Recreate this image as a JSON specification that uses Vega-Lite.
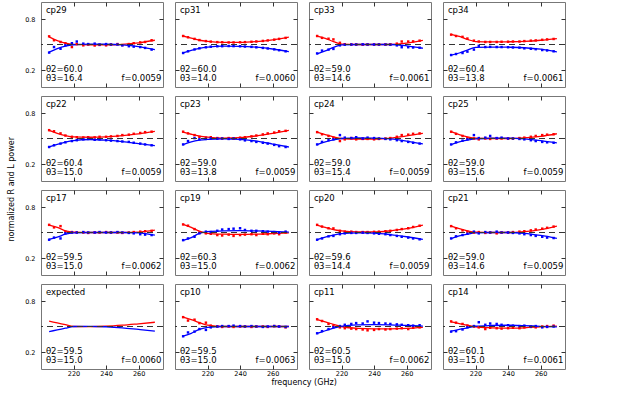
{
"$schema": "https://vega.github.io/schema/vega-lite/v6.json",
"padding": {"left": 8, "top": 1, "right": 5, "bottom": 0},
"data": {"values": [
{"p":"cp29","k":"t","a":"θ2=60.0","b":"θ3=16.4","g":"f=0.0059"},
{"p":"cp31","k":"t","a":"θ2=60.0","b":"θ3=14.0","g":"f=0.0060"},
{"p":"cp33","k":"t","a":"θ2=59.0","b":"θ3=14.6","g":"f=0.0061"},
{"p":"cp34","k":"t","a":"θ2=60.4","b":"θ3=13.8","g":"f=0.0061"},
{"p":"cp22","k":"t","a":"θ2=60.4","b":"θ3=15.0","g":"f=0.0059"},
{"p":"cp23","k":"t","a":"θ2=59.0","b":"θ3=13.8","g":"f=0.0059"},
{"p":"cp24","k":"t","a":"θ2=59.0","b":"θ3=15.4","g":"f=0.0059"},
{"p":"cp25","k":"t","a":"θ2=59.0","b":"θ3=15.6","g":"f=0.0059"},
{"p":"cp17","k":"t","a":"θ2=59.5","b":"θ3=15.0","g":"f=0.0062"},
{"p":"cp19","k":"t","a":"θ2=60.3","b":"θ3=15.0","g":"f=0.0062"},
{"p":"cp20","k":"t","a":"θ2=59.6","b":"θ3=14.4","g":"f=0.0059"},
{"p":"cp21","k":"t","a":"θ2=59.0","b":"θ3=14.6","g":"f=0.0059"},
{"p":"expected","k":"t","a":"θ2=59.5","b":"θ3=15.0","g":"f=0.0060"},
{"p":"cp10","k":"t","a":"θ2=59.5","b":"θ3=15.0","g":"f=0.0063"},
{"p":"cp11","k":"t","a":"θ2=60.5","b":"θ3=15.0","g":"f=0.0062"},
{"p":"cp14","k":"t","a":"θ2=60.1","b":"θ3=15.0","g":"f=0.0061"},

{"p":"cp29","k":"f","f":205,"R":0.59,"B":0.41},{"p":"cp29","k":"f","f":210,"R":0.545,"B":0.452},{"p":"cp29","k":"f","f":215,"R":0.515,"B":0.482},{"p":"cp29","k":"f","f":220,"R":0.502,"B":0.497},{"p":"cp29","k":"f","f":230,"R":0.496,"B":0.505},{"p":"cp29","k":"f","f":240,"R":0.495,"B":0.503},{"p":"cp29","k":"f","f":250,"R":0.502,"B":0.495},{"p":"cp29","k":"f","f":260,"R":0.52,"B":0.475},{"p":"cp29","k":"f","f":270,"R":0.55,"B":0.44},
{"p":"cp31","k":"f","f":205,"R":0.60,"B":0.40},{"p":"cp31","k":"f","f":210,"R":0.575,"B":0.43},{"p":"cp31","k":"f","f":215,"R":0.55,"B":0.455},{"p":"cp31","k":"f","f":220,"R":0.536,"B":0.47},{"p":"cp31","k":"f","f":230,"R":0.525,"B":0.481},{"p":"cp31","k":"f","f":240,"R":0.525,"B":0.479},{"p":"cp31","k":"f","f":250,"R":0.535,"B":0.468},{"p":"cp31","k":"f","f":260,"R":0.555,"B":0.447},{"p":"cp31","k":"f","f":270,"R":0.588,"B":0.415},
{"p":"cp33","k":"f","f":205,"R":0.60,"B":0.39},{"p":"cp33","k":"f","f":210,"R":0.572,"B":0.425},{"p":"cp33","k":"f","f":215,"R":0.535,"B":0.465},{"p":"cp33","k":"f","f":220,"R":0.505,"B":0.495},{"p":"cp33","k":"f","f":230,"R":0.50,"B":0.50},{"p":"cp33","k":"f","f":240,"R":0.50,"B":0.50},{"p":"cp33","k":"f","f":250,"R":0.50,"B":0.50},{"p":"cp33","k":"f","f":260,"R":0.515,"B":0.485},{"p":"cp33","k":"f","f":270,"R":0.548,"B":0.456},
{"p":"cp34","k":"f","f":205,"R":0.62,"B":0.376},{"p":"cp34","k":"f","f":210,"R":0.595,"B":0.40},{"p":"cp34","k":"f","f":215,"R":0.56,"B":0.435},{"p":"cp34","k":"f","f":220,"R":0.535,"B":0.465},{"p":"cp34","k":"f","f":230,"R":0.53,"B":0.47},{"p":"cp34","k":"f","f":240,"R":0.532,"B":0.468},{"p":"cp34","k":"f","f":250,"R":0.537,"B":0.462},{"p":"cp34","k":"f","f":260,"R":0.55,"B":0.445},{"p":"cp34","k":"f","f":270,"R":0.57,"B":0.414},
{"p":"cp22","k":"f","f":205,"R":0.596,"B":0.40},{"p":"cp22","k":"f","f":210,"R":0.56,"B":0.43},{"p":"cp22","k":"f","f":215,"R":0.535,"B":0.456},{"p":"cp22","k":"f","f":220,"R":0.52,"B":0.475},{"p":"cp22","k":"f","f":230,"R":0.515,"B":0.488},{"p":"cp22","k":"f","f":240,"R":0.52,"B":0.48},{"p":"cp22","k":"f","f":250,"R":0.535,"B":0.463},{"p":"cp22","k":"f","f":260,"R":0.555,"B":0.44},{"p":"cp22","k":"f","f":270,"R":0.585,"B":0.416},
{"p":"cp23","k":"f","f":205,"R":0.576,"B":0.428},{"p":"cp23","k":"f","f":210,"R":0.55,"B":0.46},{"p":"cp23","k":"f","f":215,"R":0.528,"B":0.48},{"p":"cp23","k":"f","f":220,"R":0.515,"B":0.49},{"p":"cp23","k":"f","f":230,"R":0.505,"B":0.497},{"p":"cp23","k":"f","f":240,"R":0.51,"B":0.49},{"p":"cp23","k":"f","f":250,"R":0.53,"B":0.47},{"p":"cp23","k":"f","f":260,"R":0.56,"B":0.435},{"p":"cp23","k":"f","f":270,"R":0.596,"B":0.40},
{"p":"cp24","k":"f","f":205,"R":0.576,"B":0.428},{"p":"cp24","k":"f","f":210,"R":0.545,"B":0.46},{"p":"cp24","k":"f","f":215,"R":0.52,"B":0.485},{"p":"cp24","k":"f","f":220,"R":0.50,"B":0.50},{"p":"cp24","k":"f","f":230,"R":0.494,"B":0.506},{"p":"cp24","k":"f","f":240,"R":0.494,"B":0.505},{"p":"cp24","k":"f","f":250,"R":0.505,"B":0.495},{"p":"cp24","k":"f","f":260,"R":0.53,"B":0.47},{"p":"cp24","k":"f","f":270,"R":0.56,"B":0.436},
{"p":"cp25","k":"f","f":205,"R":0.58,"B":0.428},{"p":"cp25","k":"f","f":210,"R":0.545,"B":0.46},{"p":"cp25","k":"f","f":215,"R":0.52,"B":0.482},{"p":"cp25","k":"f","f":220,"R":0.505,"B":0.495},{"p":"cp25","k":"f","f":230,"R":0.50,"B":0.503},{"p":"cp25","k":"f","f":240,"R":0.50,"B":0.505},{"p":"cp25","k":"f","f":250,"R":0.507,"B":0.495},{"p":"cp25","k":"f","f":260,"R":0.525,"B":0.475},{"p":"cp25","k":"f","f":270,"R":0.556,"B":0.448},
{"p":"cp17","k":"f","f":205,"R":0.588,"B":0.42},{"p":"cp17","k":"f","f":210,"R":0.56,"B":0.445},{"p":"cp17","k":"f","f":215,"R":0.52,"B":0.48},{"p":"cp17","k":"f","f":220,"R":0.505,"B":0.495},{"p":"cp17","k":"f","f":230,"R":0.50,"B":0.50},{"p":"cp17","k":"f","f":240,"R":0.50,"B":0.50},{"p":"cp17","k":"f","f":250,"R":0.50,"B":0.50},{"p":"cp17","k":"f","f":260,"R":0.505,"B":0.495},{"p":"cp17","k":"f","f":270,"R":0.528,"B":0.468},
{"p":"cp19","k":"f","f":205,"R":0.596,"B":0.408},{"p":"cp19","k":"f","f":210,"R":0.56,"B":0.44},{"p":"cp19","k":"f","f":215,"R":0.515,"B":0.49},{"p":"cp19","k":"f","f":220,"R":0.49,"B":0.51},{"p":"cp19","k":"f","f":230,"R":0.48,"B":0.52},{"p":"cp19","k":"f","f":240,"R":0.477,"B":0.522},{"p":"cp19","k":"f","f":250,"R":0.48,"B":0.518},{"p":"cp19","k":"f","f":260,"R":0.487,"B":0.512},{"p":"cp19","k":"f","f":270,"R":0.495,"B":0.505},
{"p":"cp20","k":"f","f":205,"R":0.588,"B":0.416},{"p":"cp20","k":"f","f":210,"R":0.56,"B":0.445},{"p":"cp20","k":"f","f":215,"R":0.535,"B":0.47},{"p":"cp20","k":"f","f":220,"R":0.52,"B":0.487},{"p":"cp20","k":"f","f":230,"R":0.507,"B":0.496},{"p":"cp20","k":"f","f":240,"R":0.506,"B":0.492},{"p":"cp20","k":"f","f":250,"R":0.52,"B":0.475},{"p":"cp20","k":"f","f":260,"R":0.545,"B":0.45},{"p":"cp20","k":"f","f":270,"R":0.588,"B":0.42},
{"p":"cp21","k":"f","f":205,"R":0.576,"B":0.428},{"p":"cp21","k":"f","f":210,"R":0.545,"B":0.46},{"p":"cp21","k":"f","f":215,"R":0.52,"B":0.48},{"p":"cp21","k":"f","f":220,"R":0.505,"B":0.495},{"p":"cp21","k":"f","f":230,"R":0.50,"B":0.50},{"p":"cp21","k":"f","f":240,"R":0.50,"B":0.50},{"p":"cp21","k":"f","f":250,"R":0.51,"B":0.49},{"p":"cp21","k":"f","f":260,"R":0.535,"B":0.465},{"p":"cp21","k":"f","f":270,"R":0.576,"B":0.432},
{"p":"expected","k":"f","f":205,"R":0.563,"B":0.44},{"p":"expected","k":"f","f":210,"R":0.542,"B":0.46},{"p":"expected","k":"f","f":215,"R":0.521,"B":0.48},{"p":"expected","k":"f","f":220,"R":0.50,"B":0.50},{"p":"expected","k":"f","f":230,"R":0.499,"B":0.501},{"p":"expected","k":"f","f":240,"R":0.503,"B":0.497},{"p":"expected","k":"f","f":250,"R":0.515,"B":0.485},{"p":"expected","k":"f","f":260,"R":0.532,"B":0.465},{"p":"expected","k":"f","f":270,"R":0.55,"B":0.445},
{"p":"cp10","k":"f","f":205,"R":0.61,"B":0.386},{"p":"cp10","k":"f","f":210,"R":0.58,"B":0.42},{"p":"cp10","k":"f","f":215,"R":0.545,"B":0.465},{"p":"cp10","k":"f","f":220,"R":0.515,"B":0.49},{"p":"cp10","k":"f","f":230,"R":0.50,"B":0.50},{"p":"cp10","k":"f","f":240,"R":0.50,"B":0.50},{"p":"cp10","k":"f","f":250,"R":0.50,"B":0.50},{"p":"cp10","k":"f","f":260,"R":0.50,"B":0.50},{"p":"cp10","k":"f","f":270,"R":0.50,"B":0.50},
{"p":"cp11","k":"f","f":205,"R":0.582,"B":0.42},{"p":"cp11","k":"f","f":210,"R":0.555,"B":0.45},{"p":"cp11","k":"f","f":215,"R":0.525,"B":0.48},{"p":"cp11","k":"f","f":220,"R":0.50,"B":0.502},{"p":"cp11","k":"f","f":230,"R":0.478,"B":0.518},{"p":"cp11","k":"f","f":240,"R":0.473,"B":0.522},{"p":"cp11","k":"f","f":250,"R":0.473,"B":0.52},{"p":"cp11","k":"f","f":260,"R":0.478,"B":0.512},{"p":"cp11","k":"f","f":270,"R":0.49,"B":0.505},
{"p":"cp14","k":"f","f":205,"R":0.555,"B":0.445},{"p":"cp14","k":"f","f":210,"R":0.535,"B":0.465},{"p":"cp14","k":"f","f":215,"R":0.515,"B":0.485},{"p":"cp14","k":"f","f":220,"R":0.497,"B":0.503},{"p":"cp14","k":"f","f":230,"R":0.485,"B":0.512},{"p":"cp14","k":"f","f":240,"R":0.48,"B":0.515},{"p":"cp14","k":"f","f":250,"R":0.485,"B":0.51},{"p":"cp14","k":"f","f":260,"R":0.495,"B":0.502},{"p":"cp14","k":"f","f":270,"R":0.505,"B":0.495},

{"p":"cp29","k":"p","f":205,"R":0.596,"B":0.405},{"p":"cp29","k":"p","f":208,"R":0.55,"B":0.47},{"p":"cp29","k":"p","f":212,"R":0.53,"B":0.45},{"p":"cp29","k":"p","f":215,"R":0.515,"B":0.49},{"p":"cp29","k":"p","f":219,"R":0.47,"B":0.515},{"p":"cp29","k":"p","f":222,"R":0.505,"B":0.535},{"p":"cp29","k":"p","f":226,"R":0.49,"B":0.51},{"p":"cp29","k":"p","f":229,"R":0.50,"B":0.505},{"p":"cp29","k":"p","f":233,"R":0.488,"B":0.51},{"p":"cp29","k":"p","f":236,"R":0.495,"B":0.50},{"p":"cp29","k":"p","f":240,"R":0.49,"B":0.505},{"p":"cp29","k":"p","f":243,"R":0.50,"B":0.50},{"p":"cp29","k":"p","f":247,"R":0.505,"B":0.50},{"p":"cp29","k":"p","f":250,"R":0.493,"B":0.49},{"p":"cp29","k":"p","f":254,"R":0.505,"B":0.48},{"p":"cp29","k":"p","f":257,"R":0.515,"B":0.475},{"p":"cp29","k":"p","f":261,"R":0.525,"B":0.47},{"p":"cp29","k":"p","f":264,"R":0.53,"B":0.46},{"p":"cp29","k":"p","f":268,"R":0.55,"B":0.44},
{"p":"cp31","k":"p","f":205,"R":0.60,"B":0.40},{"p":"cp31","k":"p","f":208,"R":0.585,"B":0.42},{"p":"cp31","k":"p","f":212,"R":0.566,"B":0.442},{"p":"cp31","k":"p","f":215,"R":0.552,"B":0.455},{"p":"cp31","k":"p","f":219,"R":0.54,"B":0.467},{"p":"cp31","k":"p","f":222,"R":0.534,"B":0.474},{"p":"cp31","k":"p","f":226,"R":0.528,"B":0.479},{"p":"cp31","k":"p","f":229,"R":0.526,"B":0.48},{"p":"cp31","k":"p","f":233,"R":0.524,"B":0.482},{"p":"cp31","k":"p","f":236,"R":0.524,"B":0.481},{"p":"cp31","k":"p","f":240,"R":0.526,"B":0.479},{"p":"cp31","k":"p","f":243,"R":0.528,"B":0.476},{"p":"cp31","k":"p","f":247,"R":0.532,"B":0.472},{"p":"cp31","k":"p","f":250,"R":0.536,"B":0.467},{"p":"cp31","k":"p","f":254,"R":0.542,"B":0.46},{"p":"cp31","k":"p","f":257,"R":0.548,"B":0.453},{"p":"cp31","k":"p","f":261,"R":0.557,"B":0.443},{"p":"cp31","k":"p","f":264,"R":0.566,"B":0.433},{"p":"cp31","k":"p","f":268,"R":0.578,"B":0.42},
{"p":"cp33","k":"p","f":205,"R":0.60,"B":0.395},{"p":"cp33","k":"p","f":208,"R":0.578,"B":0.428},{"p":"cp33","k":"p","f":212,"R":0.568,"B":0.44},{"p":"cp33","k":"p","f":215,"R":0.56,"B":0.448},{"p":"cp33","k":"p","f":219,"R":0.52,"B":0.49},{"p":"cp33","k":"p","f":222,"R":0.503,"B":0.498},{"p":"cp33","k":"p","f":226,"R":0.50,"B":0.50},{"p":"cp33","k":"p","f":229,"R":0.50,"B":0.50},{"p":"cp33","k":"p","f":233,"R":0.498,"B":0.502},{"p":"cp33","k":"p","f":236,"R":0.50,"B":0.50},{"p":"cp33","k":"p","f":240,"R":0.50,"B":0.50},{"p":"cp33","k":"p","f":243,"R":0.50,"B":0.50},{"p":"cp33","k":"p","f":247,"R":0.50,"B":0.50},{"p":"cp33","k":"p","f":250,"R":0.502,"B":0.498},{"p":"cp33","k":"p","f":254,"R":0.51,"B":0.49},{"p":"cp33","k":"p","f":257,"R":0.535,"B":0.468},{"p":"cp33","k":"p","f":261,"R":0.535,"B":0.468},{"p":"cp33","k":"p","f":264,"R":0.537,"B":0.465},{"p":"cp33","k":"p","f":268,"R":0.545,"B":0.462},
{"p":"cp34","k":"p","f":205,"R":0.616,"B":0.376},{"p":"cp34","k":"p","f":208,"R":0.60,"B":0.388},{"p":"cp34","k":"p","f":212,"R":0.59,"B":0.40},{"p":"cp34","k":"p","f":215,"R":0.57,"B":0.416},{"p":"cp34","k":"p","f":219,"R":0.545,"B":0.44},{"p":"cp34","k":"p","f":222,"R":0.535,"B":0.485},{"p":"cp34","k":"p","f":226,"R":0.53,"B":0.47},{"p":"cp34","k":"p","f":229,"R":0.53,"B":0.472},{"p":"cp34","k":"p","f":233,"R":0.53,"B":0.47},{"p":"cp34","k":"p","f":236,"R":0.532,"B":0.47},{"p":"cp34","k":"p","f":240,"R":0.533,"B":0.468},{"p":"cp34","k":"p","f":243,"R":0.535,"B":0.465},{"p":"cp34","k":"p","f":247,"R":0.535,"B":0.463},{"p":"cp34","k":"p","f":250,"R":0.54,"B":0.455},{"p":"cp34","k":"p","f":254,"R":0.545,"B":0.45},{"p":"cp34","k":"p","f":257,"R":0.548,"B":0.445},{"p":"cp34","k":"p","f":261,"R":0.555,"B":0.435},{"p":"cp34","k":"p","f":264,"R":0.56,"B":0.43},{"p":"cp34","k":"p","f":268,"R":0.565,"B":0.42},
{"p":"cp22","k":"p","f":205,"R":0.598,"B":0.40},{"p":"cp22","k":"p","f":208,"R":0.585,"B":0.42},{"p":"cp22","k":"p","f":212,"R":0.56,"B":0.44},{"p":"cp22","k":"p","f":215,"R":0.535,"B":0.455},{"p":"cp22","k":"p","f":219,"R":0.52,"B":0.47},{"p":"cp22","k":"p","f":222,"R":0.515,"B":0.48},{"p":"cp22","k":"p","f":226,"R":0.512,"B":0.49},{"p":"cp22","k":"p","f":229,"R":0.515,"B":0.495},{"p":"cp22","k":"p","f":233,"R":0.513,"B":0.485},{"p":"cp22","k":"p","f":236,"R":0.52,"B":0.49},{"p":"cp22","k":"p","f":240,"R":0.52,"B":0.48},{"p":"cp22","k":"p","f":243,"R":0.525,"B":0.475},{"p":"cp22","k":"p","f":247,"R":0.53,"B":0.47},{"p":"cp22","k":"p","f":250,"R":0.54,"B":0.465},{"p":"cp22","k":"p","f":254,"R":0.545,"B":0.46},{"p":"cp22","k":"p","f":257,"R":0.555,"B":0.45},{"p":"cp22","k":"p","f":261,"R":0.565,"B":0.44},{"p":"cp22","k":"p","f":264,"R":0.575,"B":0.43},{"p":"cp22","k":"p","f":268,"R":0.58,"B":0.42},
{"p":"cp23","k":"p","f":205,"R":0.58,"B":0.43},{"p":"cp23","k":"p","f":208,"R":0.56,"B":0.47},{"p":"cp23","k":"p","f":212,"R":0.54,"B":0.505},{"p":"cp23","k":"p","f":215,"R":0.52,"B":0.49},{"p":"cp23","k":"p","f":219,"R":0.51,"B":0.495},{"p":"cp23","k":"p","f":222,"R":0.515,"B":0.50},{"p":"cp23","k":"p","f":226,"R":0.505,"B":0.498},{"p":"cp23","k":"p","f":229,"R":0.50,"B":0.50},{"p":"cp23","k":"p","f":233,"R":0.505,"B":0.495},{"p":"cp23","k":"p","f":236,"R":0.50,"B":0.50},{"p":"cp23","k":"p","f":240,"R":0.51,"B":0.49},{"p":"cp23","k":"p","f":243,"R":0.515,"B":0.478},{"p":"cp23","k":"p","f":247,"R":0.525,"B":0.47},{"p":"cp23","k":"p","f":250,"R":0.535,"B":0.46},{"p":"cp23","k":"p","f":254,"R":0.548,"B":0.45},{"p":"cp23","k":"p","f":257,"R":0.56,"B":0.44},{"p":"cp23","k":"p","f":261,"R":0.57,"B":0.425},{"p":"cp23","k":"p","f":264,"R":0.585,"B":0.41},{"p":"cp23","k":"p","f":268,"R":0.59,"B":0.40},
{"p":"cp24","k":"p","f":205,"R":0.575,"B":0.43},{"p":"cp24","k":"p","f":208,"R":0.55,"B":0.46},{"p":"cp24","k":"p","f":212,"R":0.53,"B":0.48},{"p":"cp24","k":"p","f":215,"R":0.51,"B":0.49},{"p":"cp24","k":"p","f":219,"R":0.47,"B":0.54},{"p":"cp24","k":"p","f":222,"R":0.49,"B":0.51},{"p":"cp24","k":"p","f":226,"R":0.505,"B":0.505},{"p":"cp24","k":"p","f":229,"R":0.49,"B":0.515},{"p":"cp24","k":"p","f":233,"R":0.495,"B":0.50},{"p":"cp24","k":"p","f":236,"R":0.495,"B":0.51},{"p":"cp24","k":"p","f":240,"R":0.49,"B":0.505},{"p":"cp24","k":"p","f":243,"R":0.495,"B":0.50},{"p":"cp24","k":"p","f":247,"R":0.50,"B":0.495},{"p":"cp24","k":"p","f":250,"R":0.505,"B":0.49},{"p":"cp24","k":"p","f":254,"R":0.52,"B":0.48},{"p":"cp24","k":"p","f":257,"R":0.54,"B":0.47},{"p":"cp24","k":"p","f":261,"R":0.545,"B":0.46},{"p":"cp24","k":"p","f":264,"R":0.555,"B":0.45},{"p":"cp24","k":"p","f":268,"R":0.56,"B":0.44},
{"p":"cp25","k":"p","f":205,"R":0.58,"B":0.43},{"p":"cp25","k":"p","f":208,"R":0.555,"B":0.455},{"p":"cp25","k":"p","f":212,"R":0.53,"B":0.475},{"p":"cp25","k":"p","f":215,"R":0.505,"B":0.49},{"p":"cp25","k":"p","f":219,"R":0.50,"B":0.54},{"p":"cp25","k":"p","f":222,"R":0.49,"B":0.505},{"p":"cp25","k":"p","f":226,"R":0.50,"B":0.51},{"p":"cp25","k":"p","f":229,"R":0.495,"B":0.53},{"p":"cp25","k":"p","f":233,"R":0.50,"B":0.505},{"p":"cp25","k":"p","f":236,"R":0.50,"B":0.51},{"p":"cp25","k":"p","f":240,"R":0.50,"B":0.50},{"p":"cp25","k":"p","f":243,"R":0.498,"B":0.50},{"p":"cp25","k":"p","f":247,"R":0.505,"B":0.495},{"p":"cp25","k":"p","f":250,"R":0.51,"B":0.49},{"p":"cp25","k":"p","f":254,"R":0.52,"B":0.48},{"p":"cp25","k":"p","f":257,"R":0.53,"B":0.47},{"p":"cp25","k":"p","f":261,"R":0.54,"B":0.46},{"p":"cp25","k":"p","f":264,"R":0.545,"B":0.455},{"p":"cp25","k":"p","f":268,"R":0.55,"B":0.45},
{"p":"cp17","k":"p","f":205,"R":0.59,"B":0.415},{"p":"cp17","k":"p","f":208,"R":0.56,"B":0.44},{"p":"cp17","k":"p","f":212,"R":0.575,"B":0.43},{"p":"cp17","k":"p","f":215,"R":0.51,"B":0.49},{"p":"cp17","k":"p","f":219,"R":0.505,"B":0.50},{"p":"cp17","k":"p","f":222,"R":0.50,"B":0.50},{"p":"cp17","k":"p","f":226,"R":0.50,"B":0.505},{"p":"cp17","k":"p","f":229,"R":0.495,"B":0.50},{"p":"cp17","k":"p","f":233,"R":0.50,"B":0.50},{"p":"cp17","k":"p","f":236,"R":0.50,"B":0.505},{"p":"cp17","k":"p","f":240,"R":0.505,"B":0.50},{"p":"cp17","k":"p","f":243,"R":0.50,"B":0.50},{"p":"cp17","k":"p","f":247,"R":0.50,"B":0.505},{"p":"cp17","k":"p","f":250,"R":0.495,"B":0.50},{"p":"cp17","k":"p","f":254,"R":0.50,"B":0.495},{"p":"cp17","k":"p","f":257,"R":0.505,"B":0.49},{"p":"cp17","k":"p","f":261,"R":0.51,"B":0.48},{"p":"cp17","k":"p","f":264,"R":0.515,"B":0.475},{"p":"cp17","k":"p","f":268,"R":0.52,"B":0.47},
{"p":"cp19","k":"p","f":205,"R":0.595,"B":0.41},{"p":"cp19","k":"p","f":208,"R":0.58,"B":0.43},{"p":"cp19","k":"p","f":212,"R":0.54,"B":0.45},{"p":"cp19","k":"p","f":215,"R":0.50,"B":0.49},{"p":"cp19","k":"p","f":219,"R":0.49,"B":0.51},{"p":"cp19","k":"p","f":222,"R":0.485,"B":0.505},{"p":"cp19","k":"p","f":226,"R":0.47,"B":0.52},{"p":"cp19","k":"p","f":229,"R":0.465,"B":0.535},{"p":"cp19","k":"p","f":233,"R":0.475,"B":0.54},{"p":"cp19","k":"p","f":236,"R":0.46,"B":0.545},{"p":"cp19","k":"p","f":240,"R":0.47,"B":0.55},{"p":"cp19","k":"p","f":243,"R":0.475,"B":0.53},{"p":"cp19","k":"p","f":247,"R":0.48,"B":0.52},{"p":"cp19","k":"p","f":250,"R":0.47,"B":0.52},{"p":"cp19","k":"p","f":254,"R":0.485,"B":0.515},{"p":"cp19","k":"p","f":257,"R":0.48,"B":0.51},{"p":"cp19","k":"p","f":261,"R":0.49,"B":0.505},{"p":"cp19","k":"p","f":264,"R":0.48,"B":0.50},{"p":"cp19","k":"p","f":268,"R":0.50,"B":0.51},
{"p":"cp20","k":"p","f":205,"R":0.59,"B":0.415},{"p":"cp20","k":"p","f":208,"R":0.57,"B":0.43},{"p":"cp20","k":"p","f":212,"R":0.55,"B":0.455},{"p":"cp20","k":"p","f":215,"R":0.548,"B":0.46},{"p":"cp20","k":"p","f":219,"R":0.52,"B":0.48},{"p":"cp20","k":"p","f":222,"R":0.51,"B":0.49},{"p":"cp20","k":"p","f":226,"R":0.51,"B":0.495},{"p":"cp20","k":"p","f":229,"R":0.505,"B":0.495},{"p":"cp20","k":"p","f":233,"R":0.505,"B":0.498},{"p":"cp20","k":"p","f":236,"R":0.505,"B":0.495},{"p":"cp20","k":"p","f":240,"R":0.508,"B":0.49},{"p":"cp20","k":"p","f":243,"R":0.51,"B":0.485},{"p":"cp20","k":"p","f":247,"R":0.515,"B":0.48},{"p":"cp20","k":"p","f":250,"R":0.52,"B":0.47},{"p":"cp20","k":"p","f":254,"R":0.53,"B":0.46},{"p":"cp20","k":"p","f":257,"R":0.54,"B":0.45},{"p":"cp20","k":"p","f":261,"R":0.55,"B":0.44},{"p":"cp20","k":"p","f":264,"R":0.565,"B":0.43},{"p":"cp20","k":"p","f":268,"R":0.58,"B":0.42},
{"p":"cp21","k":"p","f":205,"R":0.575,"B":0.43},{"p":"cp21","k":"p","f":208,"R":0.55,"B":0.455},{"p":"cp21","k":"p","f":212,"R":0.525,"B":0.47},{"p":"cp21","k":"p","f":215,"R":0.51,"B":0.485},{"p":"cp21","k":"p","f":219,"R":0.50,"B":0.51},{"p":"cp21","k":"p","f":222,"R":0.505,"B":0.49},{"p":"cp21","k":"p","f":226,"R":0.495,"B":0.505},{"p":"cp21","k":"p","f":229,"R":0.50,"B":0.50},{"p":"cp21","k":"p","f":233,"R":0.49,"B":0.51},{"p":"cp21","k":"p","f":236,"R":0.50,"B":0.50},{"p":"cp21","k":"p","f":240,"R":0.50,"B":0.50},{"p":"cp21","k":"p","f":243,"R":0.505,"B":0.495},{"p":"cp21","k":"p","f":247,"R":0.51,"B":0.49},{"p":"cp21","k":"p","f":250,"R":0.515,"B":0.48},{"p":"cp21","k":"p","f":254,"R":0.525,"B":0.47},{"p":"cp21","k":"p","f":257,"R":0.535,"B":0.46},{"p":"cp21","k":"p","f":261,"R":0.545,"B":0.45},{"p":"cp21","k":"p","f":264,"R":0.555,"B":0.44},{"p":"cp21","k":"p","f":268,"R":0.57,"B":0.435},
{"p":"cp10","k":"p","f":205,"R":0.61,"B":0.385},{"p":"cp10","k":"p","f":208,"R":0.57,"B":0.43},{"p":"cp10","k":"p","f":212,"R":0.58,"B":0.44},{"p":"cp10","k":"p","f":215,"R":0.54,"B":0.47},{"p":"cp10","k":"p","f":219,"R":0.545,"B":0.46},{"p":"cp10","k":"p","f":222,"R":0.51,"B":0.49},{"p":"cp10","k":"p","f":226,"R":0.50,"B":0.50},{"p":"cp10","k":"p","f":229,"R":0.495,"B":0.505},{"p":"cp10","k":"p","f":233,"R":0.50,"B":0.505},{"p":"cp10","k":"p","f":236,"R":0.495,"B":0.51},{"p":"cp10","k":"p","f":240,"R":0.50,"B":0.505},{"p":"cp10","k":"p","f":243,"R":0.50,"B":0.50},{"p":"cp10","k":"p","f":247,"R":0.495,"B":0.505},{"p":"cp10","k":"p","f":250,"R":0.50,"B":0.50},{"p":"cp10","k":"p","f":254,"R":0.50,"B":0.495},{"p":"cp10","k":"p","f":257,"R":0.495,"B":0.50},{"p":"cp10","k":"p","f":261,"R":0.505,"B":0.505},{"p":"cp10","k":"p","f":264,"R":0.50,"B":0.50},{"p":"cp10","k":"p","f":268,"R":0.49,"B":0.495},
{"p":"cp11","k":"p","f":205,"R":0.585,"B":0.42},{"p":"cp11","k":"p","f":208,"R":0.565,"B":0.445},{"p":"cp11","k":"p","f":212,"R":0.53,"B":0.47},{"p":"cp11","k":"p","f":215,"R":0.51,"B":0.49},{"p":"cp11","k":"p","f":219,"R":0.49,"B":0.505},{"p":"cp11","k":"p","f":222,"R":0.48,"B":0.52},{"p":"cp11","k":"p","f":226,"R":0.475,"B":0.53},{"p":"cp11","k":"p","f":229,"R":0.47,"B":0.54},{"p":"cp11","k":"p","f":233,"R":0.465,"B":0.535},{"p":"cp11","k":"p","f":236,"R":0.455,"B":0.56},{"p":"cp11","k":"p","f":240,"R":0.46,"B":0.545},{"p":"cp11","k":"p","f":243,"R":0.47,"B":0.54},{"p":"cp11","k":"p","f":247,"R":0.465,"B":0.535},{"p":"cp11","k":"p","f":250,"R":0.47,"B":0.53},{"p":"cp11","k":"p","f":254,"R":0.475,"B":0.525},{"p":"cp11","k":"p","f":257,"R":0.48,"B":0.52},{"p":"cp11","k":"p","f":261,"R":0.47,"B":0.515},{"p":"cp11","k":"p","f":264,"R":0.485,"B":0.51},{"p":"cp11","k":"p","f":268,"R":0.49,"B":0.515},
{"p":"cp14","k":"p","f":205,"R":0.56,"B":0.44},{"p":"cp14","k":"p","f":208,"R":0.545,"B":0.445},{"p":"cp14","k":"p","f":212,"R":0.53,"B":0.465},{"p":"cp14","k":"p","f":215,"R":0.51,"B":0.49},{"p":"cp14","k":"p","f":219,"R":0.50,"B":0.505},{"p":"cp14","k":"p","f":222,"R":0.49,"B":0.55},{"p":"cp14","k":"p","f":226,"R":0.47,"B":0.52},{"p":"cp14","k":"p","f":229,"R":0.485,"B":0.535},{"p":"cp14","k":"p","f":233,"R":0.48,"B":0.53},{"p":"cp14","k":"p","f":236,"R":0.475,"B":0.52},{"p":"cp14","k":"p","f":240,"R":0.48,"B":0.515},{"p":"cp14","k":"p","f":243,"R":0.485,"B":0.51},{"p":"cp14","k":"p","f":247,"R":0.48,"B":0.505},{"p":"cp14","k":"p","f":250,"R":0.49,"B":0.51},{"p":"cp14","k":"p","f":254,"R":0.495,"B":0.50},{"p":"cp14","k":"p","f":257,"R":0.49,"B":0.505},{"p":"cp14","k":"p","f":261,"R":0.50,"B":0.49},{"p":"cp14","k":"p","f":264,"R":0.505,"B":0.495},{"p":"cp14","k":"p","f":268,"R":0.51,"B":0.50}
]},
"title": {"text": "frequency (GHz)", "orient": "bottom", "offset": 2, "dx": 17},
"vconcat": [{
"title": {"text": "normalized R and L power", "orient": "left", "offset": 8},
"spacing": 7,
"vconcat": [
{"spacing": 10, "hconcat": [
{"width":122,"height":85,"transform":[{"filter":"datum.p=='cp29'"}],"layer":[
{"transform":[{"filter":"datum.k=='f'"},{"fold":["R","B"],"as":["pol","v"]}],"mark":"line","encoding":{"x":{"field":"f","type":"quantitative","scale":{"domain":[200,275],"nice":false},"axis":{"values":[220,240,260],"title":null,"labels":false}},"y":{"field":"v","type":"quantitative","scale":{"domain":[0,1],"nice":false},"axis":{"values":[0.2,0.4,0.6,0.8],"format":".1f","title":null,"labels":true,"labelOverlap":false}},"color":{"field":"pol","type":"nominal","scale":{"domain":["R","B"],"range":["#ff0000","#0000ff"]},"legend":null}}},
{"transform":[{"filter":"datum.k=='p'"},{"fold":["R","B"],"as":["pol","v"]}],"mark":"square","encoding":{"x":{"field":"f","type":"quantitative"},"y":{"field":"v","type":"quantitative"},"color":{"field":"pol","type":"nominal"}}},
{"transform":[{"filter":"datum.k=='t'"}],"mark":"rule","encoding":{"y":{"datum":0.5}}},
{"transform":[{"filter":"datum.k=='t'"}],"mark":"text","encoding":{"x":{"datum":203},"y":{"datum":0.905},"text":{"field":"p"}}},
{"transform":[{"filter":"datum.k=='t'"}],"mark":"text","encoding":{"x":{"datum":203},"y":{"datum":0.215},"text":{"field":"a"}}},
{"transform":[{"filter":"datum.k=='t'"}],"mark":"text","encoding":{"x":{"datum":203},"y":{"datum":0.11},"text":{"field":"b"}}},
{"transform":[{"filter":"datum.k=='t'"}],"mark":{"type":"text","align":"right"},"encoding":{"x":{"datum":274},"y":{"datum":0.11},"text":{"field":"g"}}}]},
{"width":122,"height":85,"transform":[{"filter":"datum.p=='cp31'"}],"layer":[
{"transform":[{"filter":"datum.k=='f'"},{"fold":["R","B"],"as":["pol","v"]}],"mark":"line","encoding":{"x":{"field":"f","type":"quantitative","scale":{"domain":[200,275],"nice":false},"axis":{"values":[220,240,260],"title":null,"labels":false}},"y":{"field":"v","type":"quantitative","scale":{"domain":[0,1],"nice":false},"axis":{"values":[0.2,0.4,0.6,0.8],"title":null,"labels":false}},"color":{"field":"pol","type":"nominal","scale":{"domain":["R","B"],"range":["#ff0000","#0000ff"]},"legend":null}}},
{"transform":[{"filter":"datum.k=='p'"},{"fold":["R","B"],"as":["pol","v"]}],"mark":"square","encoding":{"x":{"field":"f","type":"quantitative"},"y":{"field":"v","type":"quantitative"},"color":{"field":"pol","type":"nominal"}}},
{"transform":[{"filter":"datum.k=='t'"}],"mark":"rule","encoding":{"y":{"datum":0.5}}},
{"transform":[{"filter":"datum.k=='t'"}],"mark":"text","encoding":{"x":{"datum":203},"y":{"datum":0.905},"text":{"field":"p"}}},
{"transform":[{"filter":"datum.k=='t'"}],"mark":"text","encoding":{"x":{"datum":203},"y":{"datum":0.215},"text":{"field":"a"}}},
{"transform":[{"filter":"datum.k=='t'"}],"mark":"text","encoding":{"x":{"datum":203},"y":{"datum":0.11},"text":{"field":"b"}}},
{"transform":[{"filter":"datum.k=='t'"}],"mark":{"type":"text","align":"right"},"encoding":{"x":{"datum":274},"y":{"datum":0.11},"text":{"field":"g"}}}]},
{"width":122,"height":85,"transform":[{"filter":"datum.p=='cp33'"}],"layer":[
{"transform":[{"filter":"datum.k=='f'"},{"fold":["R","B"],"as":["pol","v"]}],"mark":"line","encoding":{"x":{"field":"f","type":"quantitative","scale":{"domain":[200,275],"nice":false},"axis":{"values":[220,240,260],"title":null,"labels":false}},"y":{"field":"v","type":"quantitative","scale":{"domain":[0,1],"nice":false},"axis":{"values":[0.2,0.4,0.6,0.8],"title":null,"labels":false}},"color":{"field":"pol","type":"nominal","scale":{"domain":["R","B"],"range":["#ff0000","#0000ff"]},"legend":null}}},
{"transform":[{"filter":"datum.k=='p'"},{"fold":["R","B"],"as":["pol","v"]}],"mark":"square","encoding":{"x":{"field":"f","type":"quantitative"},"y":{"field":"v","type":"quantitative"},"color":{"field":"pol","type":"nominal"}}},
{"transform":[{"filter":"datum.k=='t'"}],"mark":"rule","encoding":{"y":{"datum":0.5}}},
{"transform":[{"filter":"datum.k=='t'"}],"mark":"text","encoding":{"x":{"datum":203},"y":{"datum":0.905},"text":{"field":"p"}}},
{"transform":[{"filter":"datum.k=='t'"}],"mark":"text","encoding":{"x":{"datum":203},"y":{"datum":0.215},"text":{"field":"a"}}},
{"transform":[{"filter":"datum.k=='t'"}],"mark":"text","encoding":{"x":{"datum":203},"y":{"datum":0.11},"text":{"field":"b"}}},
{"transform":[{"filter":"datum.k=='t'"}],"mark":{"type":"text","align":"right"},"encoding":{"x":{"datum":274},"y":{"datum":0.11},"text":{"field":"g"}}}]},
{"width":122,"height":85,"transform":[{"filter":"datum.p=='cp34'"}],"layer":[
{"transform":[{"filter":"datum.k=='f'"},{"fold":["R","B"],"as":["pol","v"]}],"mark":"line","encoding":{"x":{"field":"f","type":"quantitative","scale":{"domain":[200,275],"nice":false},"axis":{"values":[220,240,260],"title":null,"labels":false}},"y":{"field":"v","type":"quantitative","scale":{"domain":[0,1],"nice":false},"axis":{"values":[0.2,0.4,0.6,0.8],"title":null,"labels":false}},"color":{"field":"pol","type":"nominal","scale":{"domain":["R","B"],"range":["#ff0000","#0000ff"]},"legend":null}}},
{"transform":[{"filter":"datum.k=='p'"},{"fold":["R","B"],"as":["pol","v"]}],"mark":"square","encoding":{"x":{"field":"f","type":"quantitative"},"y":{"field":"v","type":"quantitative"},"color":{"field":"pol","type":"nominal"}}},
{"transform":[{"filter":"datum.k=='t'"}],"mark":"rule","encoding":{"y":{"datum":0.5}}},
{"transform":[{"filter":"datum.k=='t'"}],"mark":"text","encoding":{"x":{"datum":203},"y":{"datum":0.905},"text":{"field":"p"}}},
{"transform":[{"filter":"datum.k=='t'"}],"mark":"text","encoding":{"x":{"datum":203},"y":{"datum":0.215},"text":{"field":"a"}}},
{"transform":[{"filter":"datum.k=='t'"}],"mark":"text","encoding":{"x":{"datum":203},"y":{"datum":0.11},"text":{"field":"b"}}},
{"transform":[{"filter":"datum.k=='t'"}],"mark":{"type":"text","align":"right"},"encoding":{"x":{"datum":274},"y":{"datum":0.11},"text":{"field":"g"}}}]}
]},
{"spacing": 10, "hconcat": [
{"width":122,"height":85,"transform":[{"filter":"datum.p=='cp22'"}],"layer":[
{"transform":[{"filter":"datum.k=='f'"},{"fold":["R","B"],"as":["pol","v"]}],"mark":"line","encoding":{"x":{"field":"f","type":"quantitative","scale":{"domain":[200,275],"nice":false},"axis":{"values":[220,240,260],"title":null,"labels":false}},"y":{"field":"v","type":"quantitative","scale":{"domain":[0,1],"nice":false},"axis":{"values":[0.2,0.4,0.6,0.8],"format":".1f","title":null,"labels":true,"labelOverlap":false}},"color":{"field":"pol","type":"nominal","scale":{"domain":["R","B"],"range":["#ff0000","#0000ff"]},"legend":null}}},
{"transform":[{"filter":"datum.k=='p'"},{"fold":["R","B"],"as":["pol","v"]}],"mark":"square","encoding":{"x":{"field":"f","type":"quantitative"},"y":{"field":"v","type":"quantitative"},"color":{"field":"pol","type":"nominal"}}},
{"transform":[{"filter":"datum.k=='t'"}],"mark":"rule","encoding":{"y":{"datum":0.5}}},
{"transform":[{"filter":"datum.k=='t'"}],"mark":"text","encoding":{"x":{"datum":203},"y":{"datum":0.905},"text":{"field":"p"}}},
{"transform":[{"filter":"datum.k=='t'"}],"mark":"text","encoding":{"x":{"datum":203},"y":{"datum":0.215},"text":{"field":"a"}}},
{"transform":[{"filter":"datum.k=='t'"}],"mark":"text","encoding":{"x":{"datum":203},"y":{"datum":0.11},"text":{"field":"b"}}},
{"transform":[{"filter":"datum.k=='t'"}],"mark":{"type":"text","align":"right"},"encoding":{"x":{"datum":274},"y":{"datum":0.11},"text":{"field":"g"}}}]},
{"width":122,"height":85,"transform":[{"filter":"datum.p=='cp23'"}],"layer":[
{"transform":[{"filter":"datum.k=='f'"},{"fold":["R","B"],"as":["pol","v"]}],"mark":"line","encoding":{"x":{"field":"f","type":"quantitative","scale":{"domain":[200,275],"nice":false},"axis":{"values":[220,240,260],"title":null,"labels":false}},"y":{"field":"v","type":"quantitative","scale":{"domain":[0,1],"nice":false},"axis":{"values":[0.2,0.4,0.6,0.8],"title":null,"labels":false}},"color":{"field":"pol","type":"nominal","scale":{"domain":["R","B"],"range":["#ff0000","#0000ff"]},"legend":null}}},
{"transform":[{"filter":"datum.k=='p'"},{"fold":["R","B"],"as":["pol","v"]}],"mark":"square","encoding":{"x":{"field":"f","type":"quantitative"},"y":{"field":"v","type":"quantitative"},"color":{"field":"pol","type":"nominal"}}},
{"transform":[{"filter":"datum.k=='t'"}],"mark":"rule","encoding":{"y":{"datum":0.5}}},
{"transform":[{"filter":"datum.k=='t'"}],"mark":"text","encoding":{"x":{"datum":203},"y":{"datum":0.905},"text":{"field":"p"}}},
{"transform":[{"filter":"datum.k=='t'"}],"mark":"text","encoding":{"x":{"datum":203},"y":{"datum":0.215},"text":{"field":"a"}}},
{"transform":[{"filter":"datum.k=='t'"}],"mark":"text","encoding":{"x":{"datum":203},"y":{"datum":0.11},"text":{"field":"b"}}},
{"transform":[{"filter":"datum.k=='t'"}],"mark":{"type":"text","align":"right"},"encoding":{"x":{"datum":274},"y":{"datum":0.11},"text":{"field":"g"}}}]},
{"width":122,"height":85,"transform":[{"filter":"datum.p=='cp24'"}],"layer":[
{"transform":[{"filter":"datum.k=='f'"},{"fold":["R","B"],"as":["pol","v"]}],"mark":"line","encoding":{"x":{"field":"f","type":"quantitative","scale":{"domain":[200,275],"nice":false},"axis":{"values":[220,240,260],"title":null,"labels":false}},"y":{"field":"v","type":"quantitative","scale":{"domain":[0,1],"nice":false},"axis":{"values":[0.2,0.4,0.6,0.8],"title":null,"labels":false}},"color":{"field":"pol","type":"nominal","scale":{"domain":["R","B"],"range":["#ff0000","#0000ff"]},"legend":null}}},
{"transform":[{"filter":"datum.k=='p'"},{"fold":["R","B"],"as":["pol","v"]}],"mark":"square","encoding":{"x":{"field":"f","type":"quantitative"},"y":{"field":"v","type":"quantitative"},"color":{"field":"pol","type":"nominal"}}},
{"transform":[{"filter":"datum.k=='t'"}],"mark":"rule","encoding":{"y":{"datum":0.5}}},
{"transform":[{"filter":"datum.k=='t'"}],"mark":"text","encoding":{"x":{"datum":203},"y":{"datum":0.905},"text":{"field":"p"}}},
{"transform":[{"filter":"datum.k=='t'"}],"mark":"text","encoding":{"x":{"datum":203},"y":{"datum":0.215},"text":{"field":"a"}}},
{"transform":[{"filter":"datum.k=='t'"}],"mark":"text","encoding":{"x":{"datum":203},"y":{"datum":0.11},"text":{"field":"b"}}},
{"transform":[{"filter":"datum.k=='t'"}],"mark":{"type":"text","align":"right"},"encoding":{"x":{"datum":274},"y":{"datum":0.11},"text":{"field":"g"}}}]},
{"width":122,"height":85,"transform":[{"filter":"datum.p=='cp25'"}],"layer":[
{"transform":[{"filter":"datum.k=='f'"},{"fold":["R","B"],"as":["pol","v"]}],"mark":"line","encoding":{"x":{"field":"f","type":"quantitative","scale":{"domain":[200,275],"nice":false},"axis":{"values":[220,240,260],"title":null,"labels":false}},"y":{"field":"v","type":"quantitative","scale":{"domain":[0,1],"nice":false},"axis":{"values":[0.2,0.4,0.6,0.8],"title":null,"labels":false}},"color":{"field":"pol","type":"nominal","scale":{"domain":["R","B"],"range":["#ff0000","#0000ff"]},"legend":null}}},
{"transform":[{"filter":"datum.k=='p'"},{"fold":["R","B"],"as":["pol","v"]}],"mark":"square","encoding":{"x":{"field":"f","type":"quantitative"},"y":{"field":"v","type":"quantitative"},"color":{"field":"pol","type":"nominal"}}},
{"transform":[{"filter":"datum.k=='t'"}],"mark":"rule","encoding":{"y":{"datum":0.5}}},
{"transform":[{"filter":"datum.k=='t'"}],"mark":"text","encoding":{"x":{"datum":203},"y":{"datum":0.905},"text":{"field":"p"}}},
{"transform":[{"filter":"datum.k=='t'"}],"mark":"text","encoding":{"x":{"datum":203},"y":{"datum":0.215},"text":{"field":"a"}}},
{"transform":[{"filter":"datum.k=='t'"}],"mark":"text","encoding":{"x":{"datum":203},"y":{"datum":0.11},"text":{"field":"b"}}},
{"transform":[{"filter":"datum.k=='t'"}],"mark":{"type":"text","align":"right"},"encoding":{"x":{"datum":274},"y":{"datum":0.11},"text":{"field":"g"}}}]}
]},
{"spacing": 10, "hconcat": [
{"width":122,"height":85,"transform":[{"filter":"datum.p=='cp17'"}],"layer":[
{"transform":[{"filter":"datum.k=='f'"},{"fold":["R","B"],"as":["pol","v"]}],"mark":"line","encoding":{"x":{"field":"f","type":"quantitative","scale":{"domain":[200,275],"nice":false},"axis":{"values":[220,240,260],"title":null,"labels":false}},"y":{"field":"v","type":"quantitative","scale":{"domain":[0,1],"nice":false},"axis":{"values":[0.2,0.4,0.6,0.8],"format":".1f","title":null,"labels":true,"labelOverlap":false}},"color":{"field":"pol","type":"nominal","scale":{"domain":["R","B"],"range":["#ff0000","#0000ff"]},"legend":null}}},
{"transform":[{"filter":"datum.k=='p'"},{"fold":["R","B"],"as":["pol","v"]}],"mark":"square","encoding":{"x":{"field":"f","type":"quantitative"},"y":{"field":"v","type":"quantitative"},"color":{"field":"pol","type":"nominal"}}},
{"transform":[{"filter":"datum.k=='t'"}],"mark":"rule","encoding":{"y":{"datum":0.5}}},
{"transform":[{"filter":"datum.k=='t'"}],"mark":"text","encoding":{"x":{"datum":203},"y":{"datum":0.905},"text":{"field":"p"}}},
{"transform":[{"filter":"datum.k=='t'"}],"mark":"text","encoding":{"x":{"datum":203},"y":{"datum":0.215},"text":{"field":"a"}}},
{"transform":[{"filter":"datum.k=='t'"}],"mark":"text","encoding":{"x":{"datum":203},"y":{"datum":0.11},"text":{"field":"b"}}},
{"transform":[{"filter":"datum.k=='t'"}],"mark":{"type":"text","align":"right"},"encoding":{"x":{"datum":274},"y":{"datum":0.11},"text":{"field":"g"}}}]},
{"width":122,"height":85,"transform":[{"filter":"datum.p=='cp19'"}],"layer":[
{"transform":[{"filter":"datum.k=='f'"},{"fold":["R","B"],"as":["pol","v"]}],"mark":"line","encoding":{"x":{"field":"f","type":"quantitative","scale":{"domain":[200,275],"nice":false},"axis":{"values":[220,240,260],"title":null,"labels":false}},"y":{"field":"v","type":"quantitative","scale":{"domain":[0,1],"nice":false},"axis":{"values":[0.2,0.4,0.6,0.8],"title":null,"labels":false}},"color":{"field":"pol","type":"nominal","scale":{"domain":["R","B"],"range":["#ff0000","#0000ff"]},"legend":null}}},
{"transform":[{"filter":"datum.k=='p'"},{"fold":["R","B"],"as":["pol","v"]}],"mark":"square","encoding":{"x":{"field":"f","type":"quantitative"},"y":{"field":"v","type":"quantitative"},"color":{"field":"pol","type":"nominal"}}},
{"transform":[{"filter":"datum.k=='t'"}],"mark":"rule","encoding":{"y":{"datum":0.5}}},
{"transform":[{"filter":"datum.k=='t'"}],"mark":"text","encoding":{"x":{"datum":203},"y":{"datum":0.905},"text":{"field":"p"}}},
{"transform":[{"filter":"datum.k=='t'"}],"mark":"text","encoding":{"x":{"datum":203},"y":{"datum":0.215},"text":{"field":"a"}}},
{"transform":[{"filter":"datum.k=='t'"}],"mark":"text","encoding":{"x":{"datum":203},"y":{"datum":0.11},"text":{"field":"b"}}},
{"transform":[{"filter":"datum.k=='t'"}],"mark":{"type":"text","align":"right"},"encoding":{"x":{"datum":274},"y":{"datum":0.11},"text":{"field":"g"}}}]},
{"width":122,"height":85,"transform":[{"filter":"datum.p=='cp20'"}],"layer":[
{"transform":[{"filter":"datum.k=='f'"},{"fold":["R","B"],"as":["pol","v"]}],"mark":"line","encoding":{"x":{"field":"f","type":"quantitative","scale":{"domain":[200,275],"nice":false},"axis":{"values":[220,240,260],"title":null,"labels":false}},"y":{"field":"v","type":"quantitative","scale":{"domain":[0,1],"nice":false},"axis":{"values":[0.2,0.4,0.6,0.8],"title":null,"labels":false}},"color":{"field":"pol","type":"nominal","scale":{"domain":["R","B"],"range":["#ff0000","#0000ff"]},"legend":null}}},
{"transform":[{"filter":"datum.k=='p'"},{"fold":["R","B"],"as":["pol","v"]}],"mark":"square","encoding":{"x":{"field":"f","type":"quantitative"},"y":{"field":"v","type":"quantitative"},"color":{"field":"pol","type":"nominal"}}},
{"transform":[{"filter":"datum.k=='t'"}],"mark":"rule","encoding":{"y":{"datum":0.5}}},
{"transform":[{"filter":"datum.k=='t'"}],"mark":"text","encoding":{"x":{"datum":203},"y":{"datum":0.905},"text":{"field":"p"}}},
{"transform":[{"filter":"datum.k=='t'"}],"mark":"text","encoding":{"x":{"datum":203},"y":{"datum":0.215},"text":{"field":"a"}}},
{"transform":[{"filter":"datum.k=='t'"}],"mark":"text","encoding":{"x":{"datum":203},"y":{"datum":0.11},"text":{"field":"b"}}},
{"transform":[{"filter":"datum.k=='t'"}],"mark":{"type":"text","align":"right"},"encoding":{"x":{"datum":274},"y":{"datum":0.11},"text":{"field":"g"}}}]},
{"width":122,"height":85,"transform":[{"filter":"datum.p=='cp21'"}],"layer":[
{"transform":[{"filter":"datum.k=='f'"},{"fold":["R","B"],"as":["pol","v"]}],"mark":"line","encoding":{"x":{"field":"f","type":"quantitative","scale":{"domain":[200,275],"nice":false},"axis":{"values":[220,240,260],"title":null,"labels":false}},"y":{"field":"v","type":"quantitative","scale":{"domain":[0,1],"nice":false},"axis":{"values":[0.2,0.4,0.6,0.8],"title":null,"labels":false}},"color":{"field":"pol","type":"nominal","scale":{"domain":["R","B"],"range":["#ff0000","#0000ff"]},"legend":null}}},
{"transform":[{"filter":"datum.k=='p'"},{"fold":["R","B"],"as":["pol","v"]}],"mark":"square","encoding":{"x":{"field":"f","type":"quantitative"},"y":{"field":"v","type":"quantitative"},"color":{"field":"pol","type":"nominal"}}},
{"transform":[{"filter":"datum.k=='t'"}],"mark":"rule","encoding":{"y":{"datum":0.5}}},
{"transform":[{"filter":"datum.k=='t'"}],"mark":"text","encoding":{"x":{"datum":203},"y":{"datum":0.905},"text":{"field":"p"}}},
{"transform":[{"filter":"datum.k=='t'"}],"mark":"text","encoding":{"x":{"datum":203},"y":{"datum":0.215},"text":{"field":"a"}}},
{"transform":[{"filter":"datum.k=='t'"}],"mark":"text","encoding":{"x":{"datum":203},"y":{"datum":0.11},"text":{"field":"b"}}},
{"transform":[{"filter":"datum.k=='t'"}],"mark":{"type":"text","align":"right"},"encoding":{"x":{"datum":274},"y":{"datum":0.11},"text":{"field":"g"}}}]}
]},
{"spacing": 10, "hconcat": [
{"width":122,"height":85,"transform":[{"filter":"datum.p=='expected'"}],"layer":[
{"transform":[{"filter":"datum.k=='f'"},{"fold":["R","B"],"as":["pol","v"]}],"mark":"line","encoding":{"x":{"field":"f","type":"quantitative","scale":{"domain":[200,275],"nice":false},"axis":{"values":[220,240,260],"title":null,"labels":true,"labelOverlap":false}},"y":{"field":"v","type":"quantitative","scale":{"domain":[0,1],"nice":false},"axis":{"values":[0.2,0.4,0.6,0.8],"format":".1f","title":null,"labels":true,"labelOverlap":false}},"color":{"field":"pol","type":"nominal","scale":{"domain":["R","B"],"range":["#ff0000","#0000ff"]},"legend":null}}},
{"transform":[{"filter":"datum.k=='t'"}],"mark":"rule","encoding":{"y":{"datum":0.5}}},
{"transform":[{"filter":"datum.k=='t'"}],"mark":"text","encoding":{"x":{"datum":203},"y":{"datum":0.905},"text":{"field":"p"}}},
{"transform":[{"filter":"datum.k=='t'"}],"mark":"text","encoding":{"x":{"datum":203},"y":{"datum":0.215},"text":{"field":"a"}}},
{"transform":[{"filter":"datum.k=='t'"}],"mark":"text","encoding":{"x":{"datum":203},"y":{"datum":0.11},"text":{"field":"b"}}},
{"transform":[{"filter":"datum.k=='t'"}],"mark":{"type":"text","align":"right"},"encoding":{"x":{"datum":274},"y":{"datum":0.11},"text":{"field":"g"}}}]},
{"width":122,"height":85,"transform":[{"filter":"datum.p=='cp10'"}],"layer":[
{"transform":[{"filter":"datum.k=='f'"},{"fold":["R","B"],"as":["pol","v"]}],"mark":"line","encoding":{"x":{"field":"f","type":"quantitative","scale":{"domain":[200,275],"nice":false},"axis":{"values":[220,240,260],"title":null,"labels":true,"labelOverlap":false}},"y":{"field":"v","type":"quantitative","scale":{"domain":[0,1],"nice":false},"axis":{"values":[0.2,0.4,0.6,0.8],"title":null,"labels":false}},"color":{"field":"pol","type":"nominal","scale":{"domain":["R","B"],"range":["#ff0000","#0000ff"]},"legend":null}}},
{"transform":[{"filter":"datum.k=='p'"},{"fold":["R","B"],"as":["pol","v"]}],"mark":"square","encoding":{"x":{"field":"f","type":"quantitative"},"y":{"field":"v","type":"quantitative"},"color":{"field":"pol","type":"nominal"}}},
{"transform":[{"filter":"datum.k=='t'"}],"mark":"rule","encoding":{"y":{"datum":0.5}}},
{"transform":[{"filter":"datum.k=='t'"}],"mark":"text","encoding":{"x":{"datum":203},"y":{"datum":0.905},"text":{"field":"p"}}},
{"transform":[{"filter":"datum.k=='t'"}],"mark":"text","encoding":{"x":{"datum":203},"y":{"datum":0.215},"text":{"field":"a"}}},
{"transform":[{"filter":"datum.k=='t'"}],"mark":"text","encoding":{"x":{"datum":203},"y":{"datum":0.11},"text":{"field":"b"}}},
{"transform":[{"filter":"datum.k=='t'"}],"mark":{"type":"text","align":"right"},"encoding":{"x":{"datum":274},"y":{"datum":0.11},"text":{"field":"g"}}}]},
{"width":122,"height":85,"transform":[{"filter":"datum.p=='cp11'"}],"layer":[
{"transform":[{"filter":"datum.k=='f'"},{"fold":["R","B"],"as":["pol","v"]}],"mark":"line","encoding":{"x":{"field":"f","type":"quantitative","scale":{"domain":[200,275],"nice":false},"axis":{"values":[220,240,260],"title":null,"labels":true,"labelOverlap":false}},"y":{"field":"v","type":"quantitative","scale":{"domain":[0,1],"nice":false},"axis":{"values":[0.2,0.4,0.6,0.8],"title":null,"labels":false}},"color":{"field":"pol","type":"nominal","scale":{"domain":["R","B"],"range":["#ff0000","#0000ff"]},"legend":null}}},
{"transform":[{"filter":"datum.k=='p'"},{"fold":["R","B"],"as":["pol","v"]}],"mark":"square","encoding":{"x":{"field":"f","type":"quantitative"},"y":{"field":"v","type":"quantitative"},"color":{"field":"pol","type":"nominal"}}},
{"transform":[{"filter":"datum.k=='t'"}],"mark":"rule","encoding":{"y":{"datum":0.5}}},
{"transform":[{"filter":"datum.k=='t'"}],"mark":"text","encoding":{"x":{"datum":203},"y":{"datum":0.905},"text":{"field":"p"}}},
{"transform":[{"filter":"datum.k=='t'"}],"mark":"text","encoding":{"x":{"datum":203},"y":{"datum":0.215},"text":{"field":"a"}}},
{"transform":[{"filter":"datum.k=='t'"}],"mark":"text","encoding":{"x":{"datum":203},"y":{"datum":0.11},"text":{"field":"b"}}},
{"transform":[{"filter":"datum.k=='t'"}],"mark":{"type":"text","align":"right"},"encoding":{"x":{"datum":274},"y":{"datum":0.11},"text":{"field":"g"}}}]},
{"width":122,"height":85,"transform":[{"filter":"datum.p=='cp14'"}],"layer":[
{"transform":[{"filter":"datum.k=='f'"},{"fold":["R","B"],"as":["pol","v"]}],"mark":"line","encoding":{"x":{"field":"f","type":"quantitative","scale":{"domain":[200,275],"nice":false},"axis":{"values":[220,240,260],"title":null,"labels":true,"labelOverlap":false}},"y":{"field":"v","type":"quantitative","scale":{"domain":[0,1],"nice":false},"axis":{"values":[0.2,0.4,0.6,0.8],"title":null,"labels":false}},"color":{"field":"pol","type":"nominal","scale":{"domain":["R","B"],"range":["#ff0000","#0000ff"]},"legend":null}}},
{"transform":[{"filter":"datum.k=='p'"},{"fold":["R","B"],"as":["pol","v"]}],"mark":"square","encoding":{"x":{"field":"f","type":"quantitative"},"y":{"field":"v","type":"quantitative"},"color":{"field":"pol","type":"nominal"}}},
{"transform":[{"filter":"datum.k=='t'"}],"mark":"rule","encoding":{"y":{"datum":0.5}}},
{"transform":[{"filter":"datum.k=='t'"}],"mark":"text","encoding":{"x":{"datum":203},"y":{"datum":0.905},"text":{"field":"p"}}},
{"transform":[{"filter":"datum.k=='t'"}],"mark":"text","encoding":{"x":{"datum":203},"y":{"datum":0.215},"text":{"field":"a"}}},
{"transform":[{"filter":"datum.k=='t'"}],"mark":"text","encoding":{"x":{"datum":203},"y":{"datum":0.11},"text":{"field":"b"}}},
{"transform":[{"filter":"datum.k=='t'"}],"mark":{"type":"text","align":"right"},"encoding":{"x":{"datum":274},"y":{"datum":0.11},"text":{"field":"g"}}}]}
]}
]}],
"config": {
  "font": "DejaVu Sans",
  "view": {"stroke": "#777", "strokeWidth": 1},
  "legend": {"disable": true},
  "axis": {"labelFont": "DejaVu Sans", "grid": true, "gridColor": "#333", "gridOpacity": 1, "ticks": false, "domain": false, "labelFontSize": 6.5, "labelColor": "#000", "labelOverlap": false, "minExtent": 0},
  "axisX": {"gridDash": [4, 77, 4], "labelPadding": 1},
  "axisY": {"gridDash": [4, 114, 4], "labelPadding": 6},
  "title": {"font": "DejaVu Sans", "fontSize": 8, "fontWeight": "normal", "color": "#000", "anchor": "middle"},
  "line": {"strokeWidth": 1.3, "interpolate": "monotone"},
  "square": {"size": 6, "filled": true, "opacity": 1},
  "rule": {"strokeDash": [6, 4], "color": "#333", "strokeWidth": 1},
  "text": {"font": "DejaVu Sans", "fontSize": 8.5, "align": "left", "baseline": "middle", "color": "#000"}
}
}
